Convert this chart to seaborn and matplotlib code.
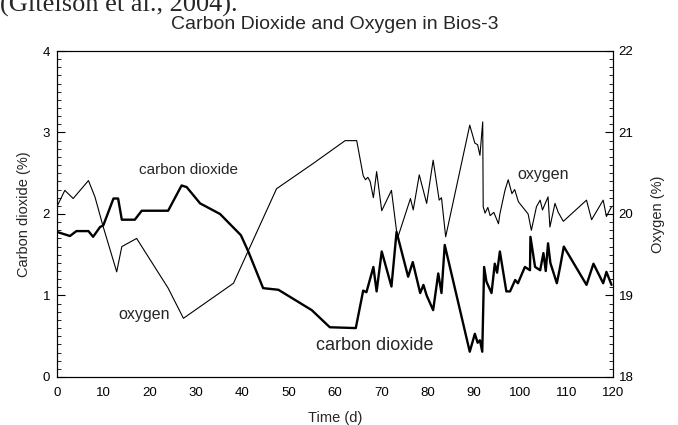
import matplotlib
matplotlib.use("Agg")
import numpy as np
import pandas as pd
import seaborn as sns
from matplotlib import pyplot as plt
from matplotlib.ticker import MultipleLocator

# carbon dioxide (%) readings, left axis
co2_days = [0, 2.8, 4.2, 6.8, 7.8, 9.3, 10, 12.2, 13.2, 14, 16.8, 18.3, 24, 26.9, 28,
            30.9, 35.2, 39.7, 41.3, 44.5, 47.8, 55, 58.9, 64.5, 66.1, 66.8, 68.3, 69,
            70.1, 72.2, 73.3, 75.8, 76.8, 78.4, 79.1, 79.8, 81.2, 82.3, 83, 83.7, 89.1,
            90.2, 90.8, 91.3, 91.8, 92.2, 92.7, 93.8, 94.5, 95.0, 95.6, 97, 97.8, 98.9,
            99.5, 101, 102.1, 102.2, 103.2, 104.3, 105, 105.5, 106, 106.5, 107.9, 108.6,
            109.4, 114.3, 115.8, 117.9, 118.6, 119.7]
co2_pct = [1.78, 1.73, 1.79, 1.79, 1.72, 1.84, 1.86, 2.19, 2.19, 1.93, 1.93, 2.04, 2.04,
           2.35, 2.33, 2.13, 2.0, 1.74, 1.54, 1.09, 1.07, 0.82, 0.61, 0.60, 1.06, 1.04,
           1.35, 1.05, 1.54, 1.11, 1.78, 1.23, 1.41, 1.03, 1.13, 1.00, 0.82, 1.27, 1.03,
           1.62, 0.31, 0.53, 0.42, 0.45, 0.31, 1.35, 1.17, 1.03, 1.39, 1.28, 1.54, 1.05,
           1.05, 1.19, 1.15, 1.35, 1.31, 1.72, 1.35, 1.31, 1.52, 1.30, 1.64, 1.40, 1.15,
           1.35, 1.60, 1.13, 1.39, 1.15, 1.29, 1.13]

# oxygen (%) readings, right axis
o2_days = [0, 1.7, 3.5, 6.8, 8.2, 10, 12.9, 14, 17.2, 24, 27.3, 38.1, 47.4, 55.3, 62.2,
           64.7, 66.1, 66.6, 67.1, 67.6, 68.3, 69, 70.1, 72.2, 73.5, 76.3, 76.9, 78.2,
           79.8, 81.2, 82.5, 83.0, 83.9, 89.1, 90.2, 90.8, 91.3, 91.9, 92.0, 92.4, 93,
           93.5, 94.3, 95.3, 95.6, 96.7, 97.4, 98.2, 98.8, 99.6, 101, 101.7, 102.4,
           103.5, 104.3, 104.8, 106, 106.4, 107.5, 108.2, 109.3, 114.3, 115.4, 117.9,
           118.6, 119.7]
o2_pct = [20.09, 20.29, 20.19, 20.41, 20.21, 19.84, 19.29, 19.60, 19.70, 19.09, 18.72,
          19.15, 20.31, 20.62, 20.90, 20.90, 20.47, 20.42, 20.45, 20.40, 20.20, 20.52,
          20.04, 20.29, 19.70, 20.19, 20.05, 20.48, 20.13, 20.66, 20.17, 20.20, 19.72,
          21.09, 20.87, 20.85, 20.72, 21.13, 20.09, 20.01, 20.08, 19.98, 20.02, 19.88,
          20.0, 20.29, 20.42, 20.25, 20.30, 20.15, 20.05, 20.0, 19.80, 20.09, 20.17,
          20.05, 20.21, 19.84, 20.13, 20.02, 19.91, 20.17, 19.93, 20.17, 19.97, 20.09]

co2 = pd.DataFrame({"day": co2_days, "pct": co2_pct})
o2 = pd.DataFrame({"day": o2_days, "pct": o2_pct})

sns.set_theme(style="white")
plt.rcParams["font.family"] = ["Liberation Sans", "DejaVu Sans"]

fig = plt.figure(figsize=(6.78, 4.25), dpi=100)
ax = fig.add_axes([0.084, 0.113, 0.820, 0.767])
ax2 = ax.twinx()

sns.lineplot(data=co2, x="day", y="pct", ax=ax, color="black", linewidth=1.7,
             estimator=None)
sns.lineplot(data=o2, x="day", y="pct", ax=ax2, color="black", linewidth=0.8,
             estimator=None)

ax.set_xlim(0, 120)
ax.set_ylim(0, 4)
ax2.set_ylim(18, 22)

ax.xaxis.set_major_locator(MultipleLocator(10))
ax.xaxis.set_minor_locator(MultipleLocator(1))
ax.yaxis.set_major_locator(MultipleLocator(1))
ax.yaxis.set_minor_locator(MultipleLocator(0.1))
ax2.yaxis.set_major_locator(MultipleLocator(1))
ax2.yaxis.set_minor_locator(MultipleLocator(0.1))

for a in (ax, ax2):
    a.tick_params(which="major", direction="in", length=6, width=0.8, labelsize=9.5,
                  colors="black", pad=4)
    a.tick_params(which="minor", direction="in", length=3, width=0.6, colors="black")
    for s in a.spines.values():
        s.set_color("black")
        s.set_linewidth(0.8)
ax.tick_params(axis="x", which="major", pad=7)
ax.tick_params(axis="y", which="major", pad=5)
ax.tick_params(axis="y", which="both", right=False)
ax2.tick_params(axis="y", which="both", left=False)

ax.set_xlabel("Time (d)", fontsize=10.5, labelpad=9)
ax.set_ylabel("Carbon dioxide (%)", fontsize=10.5, labelpad=8)
ax2.set_ylabel("Oxygen (%)", fontsize=10.5, labelpad=13)
ax.set_title("Carbon Dioxide and Oxygen in Bios-3", fontsize=14, pad=16)

ax.text(28.3, 2.54, "carbon dioxide", fontsize=11, ha="center", va="center")
ax.text(68.6, 0.39, "carbon dioxide", fontsize=13, ha="center", va="center")
ax.text(18.8, 0.77, "oxygen", fontsize=11.5, ha="center", va="center")
ax.text(104.9, 2.48, "oxygen", fontsize=11.5, ha="center", va="center")

# cut-off caption line at the very top of the scan
fig.text(0.0, 0.972, "(Gitelson et al., 2004).", fontsize=19,
         family=["Liberation Serif", "DejaVu Serif"], ha="left", va="baseline")

fig.savefig("out.png", dpi=100)
plt.close(fig)
